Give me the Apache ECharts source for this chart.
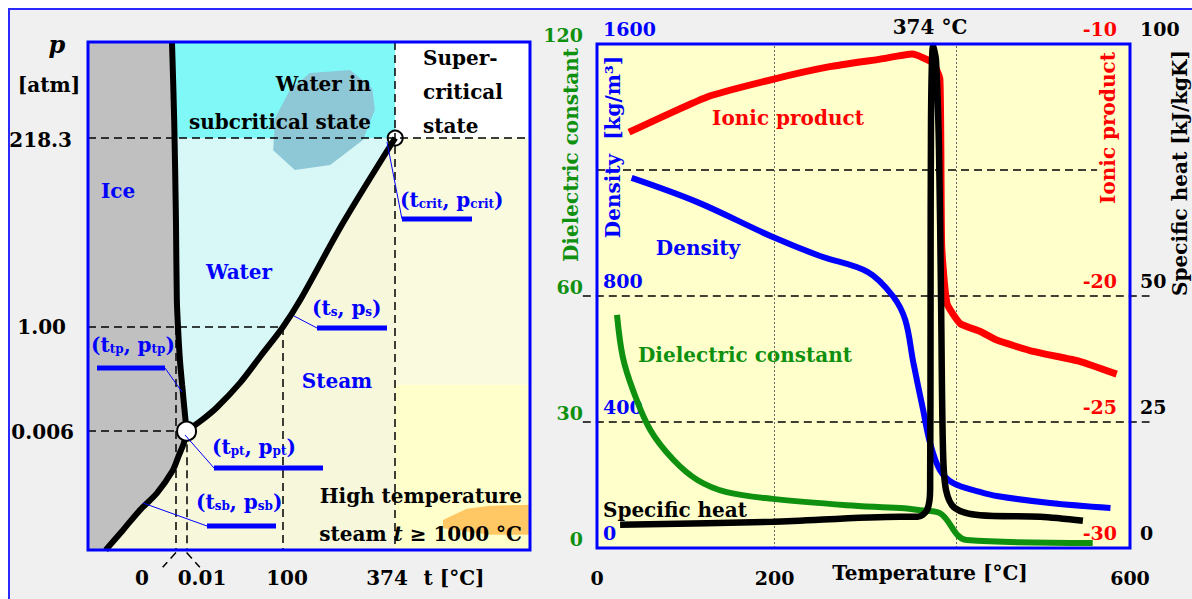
<!DOCTYPE html>
<html>
<head>
<meta charset="utf-8">
<script src="https://cdn.jsdelivr.net/npm/echarts@6/dist/echarts.min.js"></script>
<style>
  html, body { margin: 0; padding: 0; background: #fff; }
  #frame { position: absolute; left: 8px; top: 8px; width: 1300px; height: 700px;
           background: #f0f0f0; border-top: 2px solid #2a2aff; border-left: 2px solid #2a2aff; }
  #main { position: absolute; left: 0; top: 0; width: 1192px; height: 599px; }
</style>
</head>
<body>
<div id="frame"></div>
<div id="main"></div>
<script>
// ---------- left: phase diagram, schematic scale 0..100 on both axes ----------
const tTickLabels = ['0', '0.01', '100', '374'];
const pTickLabels = ['0.006', '1.00', '218.3'];
const meltT0 = 19.9;              // t = 0 °C
const tripleAt = [22.3, 23.4];    // (0.01 °C, 0.006 atm)
const boilAt = [44.1, 43.9];      // (100 °C, 1 atm)
const critAt = [69.5, 81.1];      // (374 °C, 218.3 atm)
const hotSteamTop = 32.5;
const meltCurve = [[19.0, 100], [19.5, 84.6], [19.9, 64.9], [20.1, 49.2], [20.4, 43.3], [20.8, 37.4], [21.3, 32.5], [22.3, 23.4]];
const sublCurve = [[22.3, 23.4], [21.7, 21.1], [20.4, 18.3], [19.2, 15.7], [15.6, 11.2], [11.8, 7.9], [7.9, 3.9], [4.0, 0]];
const vaporCurve = [[22.3, 23.4], [25.8, 25.6], [29.2, 28.1], [34.4, 32.9], [38.9, 38.0], [44.1, 43.9], [48.0, 49.2], [57.7, 64.4], [69.5, 81.1]];
const blueBlob = [[41.9, 78.7], [42.3, 85.0], [45.7, 90.6], [50.2, 93.9], [59.3, 94.5], [64.3, 90.9], [64.9, 86.6], [62.2, 80.7], [54.8, 75.8], [46.8, 74.8]];
const orangeBlob = [[80.3, 5.9], [85.7, 8.1], [91.0, 8.7], [100, 8.9], [100, 3.0], [91.0, 3.0], [80.3, 4.3]];

// ---------- right: properties vs temperature ----------
const tempTicks = [0, 200, 600];
const dielTicks = [0, 30, 60, 120];
const densTicks = [0, 400, 800, 1600];
const ionicTicks = [-30, -25, -20, -10];
const heatTicks = [0, 25, 50, 100];
const refLevels = [90, 60, 30];        // dashed lines, dielectric scale
const guideTemps = [200, 404];         // dotted verticals

const densityT = [39, 113, 198, 251, 305, 333, 347, 356, 367, 375, 386, 401, 431, 450, 510, 578];
const density = [1175, 1098, 987, 927, 876, 800, 724, 590, 440, 333, 248, 206, 178, 165, 143, 127];
const ionicT = [36, 124, 198, 262, 319, 355, 378, 386, 388, 394, 409, 431, 450, 491, 544, 585];
const ionic = [-13.5, -12.1, -11.4, -10.9, -10.6, -10.4, -10.75, -11.4, -18.0, -20.3, -21.1, -21.4, -21.75, -22.2, -22.6, -23.1];
const dielT = [22.5, 29, 40.5, 60, 86, 113, 146, 198, 281, 341, 364, 386, 416, 558];
const dielectric = [55.5, 45.5, 37.6, 28.1, 21, 16.2, 13.3, 11.7, 10.2, 9.5, 9.0, 8.3, 1.9, 1.2];
const heatT = [26, 198, 341, 361, 371.5, 375, 375.5, 376, 378.3, 381.6, 385, 387.3, 389.5, 392.9, 403, 431, 499, 547];
const heat = [4.6, 5.2, 6.2, 6.2, 7.5, 11.5, 49.2, 84.9, 99.6, 96.8, 79.0, 49.2, 19.4, 11.5, 7.9, 6.5, 6.2, 5.4];

const FONT = '"DejaVu Serif", serif';
const BLUE = '#0000ff', RED = '#ff0000', GREEN = '#0f910f', BLACK = '#000000';
const zip = (xs, ys) => xs.map((x, i) => [x, ys[i]]);

function meltXAt(y) {
    for (let i = 1; i < meltCurve.length; i++) {
        const a = meltCurve[i - 1], b = meltCurve[i];
        if (y <= a[1] && y >= b[1]) return a[0] + (b[0] - a[0]) * (a[1] - y) / (a[1] - b[1]);
    }
    return meltCurve[0][0];
}
const mx = meltXAt(critAt[1]);
const regions = [
    {fill: '#c0c0c0', pts: [[0, 100]].concat(meltCurve, sublCurve.slice(1), [[0, 0]])},
    {fill: '#80f8f8', pts: [[critAt[0], 100], critAt, [mx, critAt[1]]].concat(meltCurve.filter(p => p[1] > critAt[1]).reverse())},
    {fill: '#d8f8f8', pts: [[mx, critAt[1]]].concat(meltCurve.filter(p => p[1] < critAt[1]), vaporCurve.slice(1))},
    {fill: '#ffffff', pts: [[critAt[0], 100], [100, 100], [100, critAt[1]], critAt]},
    {fill: '#fafade', pts: [critAt, [100, critAt[1]], [100, hotSteamTop], [critAt[0], hotSteamTop]]},
    {fill: '#ffffcc', pts: [[critAt[0], hotSteamTop], [100, hotSteamTop], [100, 0], [critAt[0], 0]]},
    {fill: '#8ec7d6', pts: blueBlob},
    {fill: '#ffc864', pts: orangeBlob}
];

function txt(x, y, text, o) {
    o = o || {};
    const el = {
        type: 'text', x: x, y: y, z: 120, rotation: o.rot || 0,
        style: {
            text: text, fill: o.color || BLACK,
            font: (o.italic ? 'italic ' : '') + 'bold ' + (o.size || 20) + 'px ' + FONT,
            textAlign: o.align || 'center', textVerticalAlign: 'middle'
        }
    };
    if (o.rich) el.style.rich = o.rich;
    return el;
}
function tok(size, color, extra) {
    return Object.assign({fontSize: size, fontWeight: 'bold', fontFamily: FONT, fill: color}, extra || {});
}
const subRich = {n: tok(20, BLUE, {verticalAlign: 'bottom'}), s: tok(12, BLUE, {verticalAlign: 'bottom'})};
const sub = (a, b) => '{n|(t}{s|' + a + '}{n|, p}{s|' + b + '}{n|)}';
const line = (x1, y1, x2, y2, w) => ({type: 'line', z: 110, shape: {x1, y1, x2, y2}, style: {stroke: BLUE, lineWidth: w}});

const hideTick = list => v => (list.indexOf(v) >= 0 ? String(v) : '');
const lblStyle = (color, extra) => Object.assign({color: color, fontFamily: FONT, fontWeight: 'bold', fontSize: 19}, extra);

const chart = echarts.init(document.getElementById('main'), null, {renderer: 'svg'});
const option = {
    animation: false,
    backgroundColor: 'transparent',
    grid: [
        {left: 88, top: 42, width: 442, height: 508, show: true, backgroundColor: '#f7f7dc', borderWidth: 0},
        {left: 597, top: 44, width: 533, height: 504, show: true, backgroundColor: '#ffffcc', borderWidth: 0}
    ],
    xAxis: [
        {gridIndex: 0, type: 'value', min: 0, max: 100, show: false},
        {
            gridIndex: 1, type: 'value', min: 0, max: 600, interval: 200,
            axisLine: {show: false}, axisTick: {show: false}, splitLine: {show: false},
            axisLabel: lblStyle(BLACK, {margin: 20, formatter: hideTick(tempTicks)})
        }
    ],
    yAxis: [
        {gridIndex: 0, type: 'value', min: 0, max: 100, show: false},
        {
            gridIndex: 1, type: 'value', min: 0, max: 120, interval: 30, position: 'left',
            axisLine: {show: false}, axisTick: {show: false}, splitLine: {show: false},
            axisLabel: lblStyle(GREEN, {margin: 14, verticalAlign: 'bottom', formatter: hideTick(dielTicks)})
        },
        {
            gridIndex: 1, type: 'value', min: 0, max: 1600, interval: 400, position: 'left',
            axisLine: {show: false}, axisTick: {show: false}, splitLine: {show: false},
            axisLabel: lblStyle(BLUE, {inside: true, margin: 6, verticalAlign: 'bottom', padding: [0, 0, 6, 0], formatter: hideTick(densTicks)})
        },
        {
            gridIndex: 1, type: 'value', min: -30, max: -10, interval: 5, position: 'right',
            axisLine: {show: false}, axisTick: {show: false}, splitLine: {show: false},
            axisLabel: lblStyle(RED, {inside: true, margin: 13, verticalAlign: 'bottom', padding: [0, 0, 6, 0], formatter: hideTick(ionicTicks)})
        },
        {
            gridIndex: 1, type: 'value', min: 0, max: 100, interval: 25, position: 'right',
            axisLine: {show: false}, axisTick: {show: false}, splitLine: {show: false},
            axisLabel: lblStyle(BLACK, {margin: 10, verticalAlign: 'bottom', padding: [0, 0, 6, 0], formatter: hideTick(heatTicks)})
        }
    ],
    series: [
        // ---- phase diagram ----
        {
            type: 'custom', xAxisIndex: 0, yAxisIndex: 0, z: 1, silent: true,
            data: regions.map((r, i) => [i]),
            renderItem: (params, api) => {
                const r = regions[params.dataIndex];
                return {type: 'polygon', shape: {points: r.pts.map(p => api.coord(p))}, style: {fill: r.fill}};
            }
        },
        {
            type: 'scatter', xAxisIndex: 0, yAxisIndex: 0, z: 2, data: [critAt], symbolSize: 15,
            itemStyle: {color: '#fff', borderColor: BLACK, borderWidth: 2, opacity: 1}
        },
        {
            type: 'lines', coordinateSystem: 'cartesian2d', xAxisIndex: 0, yAxisIndex: 0, z: 3, clip: false,
            lineStyle: {color: BLACK, width: 1.5, type: [8, 5], opacity: 1},
            data: [
                {coords: [[0, critAt[1]], [100, critAt[1]]]},
                {coords: [[critAt[0], 100], [critAt[0], 0]]},
                {coords: [[0, boilAt[1]], boilAt]},
                {coords: [boilAt, [boilAt[0], 0]]},
                {coords: [[meltT0, boilAt[1]], [meltT0, 0]]},
                {coords: [[0, tripleAt[1]], tripleAt]},
                {coords: [tripleAt, [tripleAt[0], 0]]},
                {coords: [[meltT0, -0.5], [meltT0 - 3, -3.4]]},
                {coords: [[tripleAt[0], -0.5], [tripleAt[0] + 3, -3.4]]}
            ]
        },
        ...[meltCurve, sublCurve, vaporCurve].map(c => ({
            type: 'line', xAxisIndex: 0, yAxisIndex: 0, z: 4, data: c, smooth: 0.3,
            showSymbol: false, lineStyle: {color: BLACK, width: 6}
        })),
        {
            type: 'scatter', xAxisIndex: 0, yAxisIndex: 0, z: 5, data: [tripleAt], symbolSize: 19,
            itemStyle: {color: '#fff', borderColor: BLACK, borderWidth: 2, opacity: 1}
        },
        // ---- properties ----
        {
            type: 'lines', coordinateSystem: 'cartesian2d', xAxisIndex: 1, yAxisIndex: 1, z: 2, clip: false,
            lineStyle: {color: BLACK, width: 1.5, type: [8, 5], opacity: 1},
            data: refLevels.map(v => ({coords: v === 90 ? [[0, v], [563, v]] : [[-16, v], [622, v]]}))
        },
        {
            type: 'lines', coordinateSystem: 'cartesian2d', xAxisIndex: 1, yAxisIndex: 1, z: 2,
            lineStyle: {color: '#666', width: 1, type: [2, 2], opacity: 1},
            data: guideTemps.map(t => ({coords: [[t, 0], [t, 120]]}))
        },
        {
            type: 'line', xAxisIndex: 1, yAxisIndex: 1, z: 3, data: zip(dielT, dielectric), smooth: 0.35,
            showSymbol: false, lineStyle: {color: GREEN, width: 6}
        },
        {
            type: 'line', xAxisIndex: 1, yAxisIndex: 2, z: 3, data: zip(densityT, density), smooth: 0.35,
            showSymbol: false, lineStyle: {color: BLUE, width: 6}
        },
        {
            type: 'line', xAxisIndex: 1, yAxisIndex: 3, z: 3, data: zip(ionicT, ionic), smooth: 0.15,
            showSymbol: false, lineStyle: {color: RED, width: 7}
        },
        {
            type: 'line', xAxisIndex: 1, yAxisIndex: 4, z: 4, data: zip(heatT, heat), smooth: 0.3, clip: false,
            showSymbol: false, lineStyle: {color: BLACK, width: 6.5}
        }
    ],
    graphic: [
        // panel borders
        {type: 'rect', z: 100, shape: {x: 88, y: 42, width: 442, height: 508}, style: {fill: 'none', stroke: BLUE, lineWidth: 3}},
        {type: 'rect', z: 100, shape: {x: 597, y: 44, width: 533, height: 504}, style: {fill: 'none', stroke: BLUE, lineWidth: 3}},
        // left axis texts
        txt(57, 44, 'p', {italic: true, size: 24}),
        txt(49, 85, '[atm]'),
        txt(72, 140, pTickLabels[2], {align: 'right'}),
        txt(66, 327, pTickLabels[1], {align: 'right'}),
        txt(74, 432, pTickLabels[0], {align: 'right'}),
        txt(142, 578, tTickLabels[0]),
        txt(202, 578, tTickLabels[1]),
        txt(287, 578, tTickLabels[2]),
        txt(387, 578, tTickLabels[3]),
        txt(454, 578, 't [°C]'),
        // region labels
        txt(118, 191, 'Ice', {color: BLUE}),
        txt(239, 272, 'Water', {color: BLUE}),
        txt(337, 381, 'Steam', {color: BLUE}),
        txt(371, 84, 'Water in', {align: 'right'}),
        txt(371, 122, 'subcritical state', {align: 'right'}),
        txt(423, 58, 'Super-', {align: 'left'}),
        txt(423, 92, 'critical', {align: 'left'}),
        txt(423, 126, 'state', {align: 'left'}),
        txt(522, 496, 'High temperature', {align: 'right'}),
        txt(522, 534, '{a|steam }{i|t}{a| ≥ 1000 °C}', {align: 'right', rich: {a: tok(20, BLACK), i: tok(20, BLACK, {fontStyle: 'italic'})}}),
        // annotations
        txt(400, 200, sub('crit', 'crit'), {align: 'left', rich: subRich}),
        line(387, 142, 402, 219, 1), line(402, 219, 472, 219, 5),
        txt(312, 308, sub('s', 's'), {align: 'left', rich: subRich}),
        line(294, 316, 317, 328, 1), line(317, 328, 387, 328, 5),
        txt(91, 345, sub('tp', 'tp'), {align: 'left', rich: subRich}),
        line(165, 368, 182, 392, 1), line(97, 368, 165, 368, 5),
        txt(212, 447, sub('pt', 'pt'), {align: 'left', rich: subRich}),
        line(185, 435, 214, 468, 1), line(214, 468, 323, 468, 5),
        txt(196, 502, sub('sb', 'sb'), {align: 'left', rich: subRich}),
        line(143, 503, 207, 526, 1), line(207, 526, 276, 526, 5),
        // right panel texts
        txt(930, 27, '374 °C'),
        txt(930, 573, 'Temperature [°C]'),
        txt(571, 155, 'Dielectric constant', {color: GREEN, rot: Math.PI / 2}),
        txt(613, 147, 'Density  [kg/m³]', {color: BLUE, rot: Math.PI / 2}),
        txt(1108, 128, 'Ionic product', {color: RED, rot: Math.PI / 2}),
        txt(1180, 173, 'Specific heat [kJ/kgK]', {color: BLACK, rot: Math.PI / 2}),
        txt(788, 118, 'Ionic product', {color: RED}),
        txt(698, 248, 'Density', {color: BLUE}),
        txt(745, 355, 'Dielectric constant', {color: GREEN}),
        txt(675, 510, 'Specific heat', {color: BLACK})
    ]
};
chart.setOption(option);
</script>
</body>
</html>
